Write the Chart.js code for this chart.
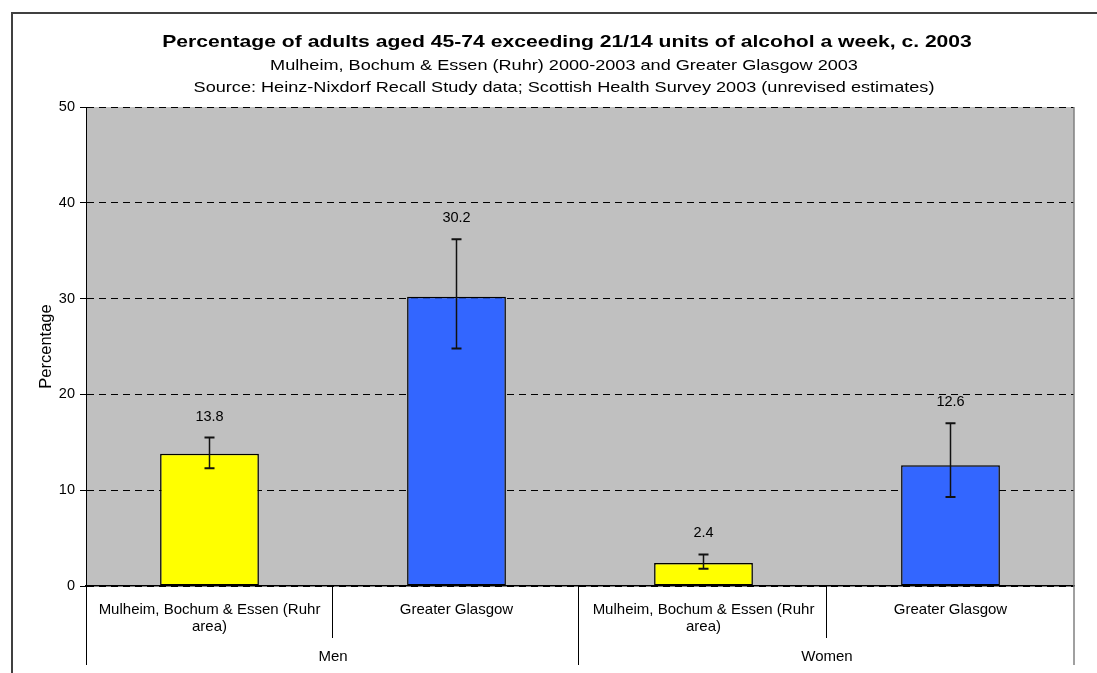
<!DOCTYPE html>
<html><head><meta charset="utf-8">
<script src="https://cdn.jsdelivr.net/npm/chart.js@4.4.0/dist/chart.umd.min.js"></script>
<style>html,body{margin:0;padding:0;background:#fff;}#wrap{width:1097px;height:673px;}</style>
</head><body><div id="wrap"><canvas id="c" width="1097" height="673"></canvas></div>
<script>
const categories = [["Mulheim, Bochum & Essen (Ruhr", "area)"], "Greater Glasgow", ["Mulheim, Bochum & Essen (Ruhr", "area)"], "Greater Glasgow"];
const groups = ["Men", "Women"];
const groupSizes = [2, 2];
const values = [13.8, 30.2, 2.4, 12.6];
const upperCI = [15.5, 36.2, 3.3, 17.0];
const lowerCI = [12.3, 24.8, 1.8, 9.3];
const barColors = ["#FFFF00", "#3366FF", "#FFFF00", "#3366FF"];
const yTicks = [0, 10, 20, 30, 40, 50];
const titleText = "Percentage of adults aged 45-74 exceeding 21/14 units of alcohol a week, c. 2003";
const subtitleLines = ["Mulheim, Bochum & Essen (Ruhr) 2000-2003 and Greater Glasgow 2003",
  "Source: Heinz-Nixdorf Recall Study data; Scottish Health Survey 2003 (unrevised estimates)"];
const yTitle = "Percentage";

const FONT = '"Liberation Sans", Arial, sans-serif';

function stretchedText(ctx, text, cx, y, sx) {
  ctx.save();
  ctx.translate(cx, y);
  ctx.scale(sx, 1);
  ctx.fillText(text, 0, 0);
  ctx.restore();
}

const decor = {
  id: 'decor',
  beforeDraw(chart) {
    const {ctx, chartArea: a} = chart;
    ctx.save();
    ctx.fillStyle = '#fff';
    ctx.fillRect(0, 0, chart.width, chart.height);
    ctx.fillStyle = '#C0C0C0';
    ctx.fillRect(a.left, a.top, a.right - a.left, a.bottom - a.top);
    ctx.strokeStyle = '#404040';
    ctx.lineWidth = 2;
    ctx.strokeRect(12, 13, 3000, 3000);
    ctx.restore();
  },
  afterDatasetsDraw(chart) {
    const {ctx} = chart;
    const x = chart.scales.x, y = chart.scales.y;
    ctx.save();
    values.forEach((v, i) => {
      const px = x.getPixelForValue(i);
      const yu = y.getPixelForValue(upperCI[i]);
      const yl = y.getPixelForValue(lowerCI[i]);
      ctx.strokeStyle = '#111';
      ctx.lineWidth = 1.5;
      ctx.beginPath();
      ctx.moveTo(px, yu); ctx.lineTo(px, yl); ctx.stroke();
      ctx.lineWidth = 2;
      ctx.beginPath();
      ctx.moveTo(px - 5, yu); ctx.lineTo(px + 5, yu);
      ctx.moveTo(px - 5, yl); ctx.lineTo(px + 5, yl);
      ctx.stroke();
      ctx.fillStyle = '#000';
      ctx.font = '14.5px ' + FONT;
      ctx.textAlign = 'center';
      ctx.textBaseline = 'middle';
      ctx.fillText(v.toFixed(1), px, yu - 21);
    });
    ctx.restore();
  },
  afterDraw(chart) {
    const {ctx, chartArea: a} = chart;
    const x = chart.scales.x;
    ctx.save();
    // titles
    ctx.fillStyle = '#000';
    ctx.textAlign = 'center';
    ctx.textBaseline = 'alphabetic';
    ctx.font = 'bold 17px ' + FONT;
    stretchedText(ctx, titleText, 567, 47, 1.242);
    ctx.font = '14.5px ' + FONT;
    subtitleLines.forEach((t, i) => stretchedText(ctx, t, 564, 70 + 22 * i, 1.249));
    // right plot border
    ctx.strokeStyle = '#808080';
    ctx.lineWidth = 1.5;
    ctx.beginPath();
    ctx.moveTo(a.right, a.top); ctx.lineTo(a.right, 665); ctx.stroke();
    // category separators
    const half = (x.getPixelForValue(1) - x.getPixelForValue(0)) / 2;
    ctx.strokeStyle = '#000';
    ctx.lineWidth = 1;
    ctx.beginPath();
    ctx.moveTo(a.left + 0.5, a.bottom); ctx.lineTo(a.left + 0.5, 665);
    let idx = 0;
    groupSizes.forEach((n, g) => {
      for (let k = 1; k < n; k++) {
        const px = Math.round(x.getPixelForValue(idx + k) - half) - 0.5;
        ctx.moveTo(px, a.bottom); ctx.lineTo(px, 638);
      }
      idx += n;
      if (g < groupSizes.length - 1) {
        const px = Math.round(x.getPixelForValue(idx) - half) - 1.5;
        ctx.moveTo(px, a.bottom); ctx.lineTo(px, 665);
      }
    });
    ctx.stroke();
    // group labels
    ctx.font = '15px ' + FONT;
    ctx.textBaseline = 'middle';
    idx = 0;
    groupSizes.forEach((n, g) => {
      const l = x.getPixelForValue(idx) - half;
      const r = x.getPixelForValue(idx + n - 1) + half;
      ctx.fillText(groups[g], (l + r) / 2, 657);
      idx += n;
    });
    ctx.restore();
  }
};

new Chart(document.getElementById('c'), {
  type: 'bar',
  data: {
    labels: categories,
    datasets: [{
      data: values,
      backgroundColor: barColors,
      borderColor: '#000',
      borderWidth: 1.5,
      borderSkipped: false,
      barPercentage: 0.4,
      categoryPercentage: 1.0
    }]
  },
  options: {
    responsive: false,
    devicePixelRatio: 1,
    animation: false,
    layout: {padding: {left: 0, right: 23, top: 107, bottom: 0}},
    plugins: {legend: {display: false}, tooltip: {enabled: false}, title: {display: false}},
    scales: {
      x: {
        type: 'category',
        grid: {display: false, drawTicks: false},
        border: {display: true, color: '#000', width: 1.5},
        ticks: {color: '#000', font: {family: FONT, size: 15, lineHeight: 1.15}, padding: 15, maxRotation: 0, autoSkip: false},
        afterFit(s) { s.height = 87; }
      },
      y: {
        min: 0, max: 50,
        afterBuildTicks(s) { s.ticks = yTicks.map(v => ({value: v})); },
        grid: {color: '#000', lineWidth: 1, tickLength: 6, tickColor: '#000', tickBorderDash: [], drawTicks: true},
        border: {display: true, color: '#000', width: 1, dash: [7, 5]},
        ticks: {color: '#000', font: {family: FONT, size: 14.5}, padding: 5},
        title: {display: true, text: yTitle, color: '#000', font: {family: FONT, size: 16.5}, padding: {top: 37, bottom: 0}},
        afterFit(s) { s.width = 86; }
      }
    }
  },
  plugins: [decor]
});
</script>
</body></html>
